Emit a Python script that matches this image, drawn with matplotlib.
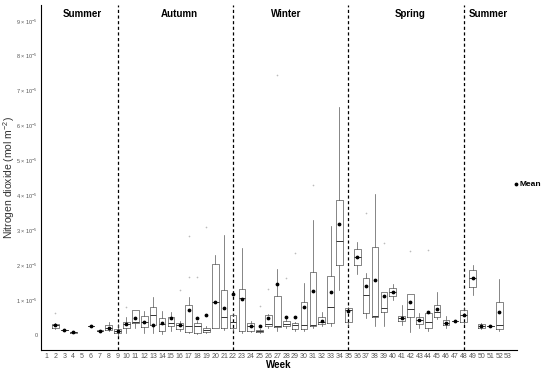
import numpy as np
import matplotlib
matplotlib.use('Agg')
import matplotlib.pyplot as plt

plt.rcParams['font.family'] = ['Liberation Sans', 'DejaVu Sans']
plt.rcParams['mathtext.fontset'] = 'custom'
plt.rcParams['mathtext.rm'] = 'Liberation Sans'

# values in units of 1e-5 mol m^-2
weeks = [2, 3, 4, 6, 7, 8, 9, 10, 11, 12, 13, 14, 15, 16, 17, 18, 19, 20, 21, 22,
         23, 24, 25, 26, 27, 28, 29, 30, 31, 32, 33, 34, 35, 36, 37, 38, 39, 40, 41,
         42, 43, 44, 45, 46, 47, 48, 49, 50, 51, 52]
whislo = [0.17, 0.12, 0.06, 0.23, 0.10, 0.10, -0.03, 0.05, 0.20, 0.05, 0.05, 0.02, 0.10, 0.12, 0.05, 0.02, 0.05, 0.19, 0.14, 0.10,
          0.05, 0.08, 0.05, 0.20, 0.10, 0.20, 0.12, 0.12, 0.20, 0.25, 0.24, 1.29, 0.25, 1.74, 0.49, 0.24, 0.24, 1.00, 0.28,
          0.07, 0.20, 0.10, 0.45, 0.20, 0.38, 0.30, 1.15, 0.17, 0.24, 0.10]
q1 = [0.20, 0.13, 0.06, 0.24, 0.11, 0.14, 0.05, 0.19, 0.34, 0.21, 0.29, 0.10, 0.24, 0.17, 0.08, 0.05, 0.08, 0.19, 0.19, 0.19,
      0.11, 0.11, 0.07, 0.24, 0.21, 0.24, 0.17, 0.17, 0.24, 0.30, 0.34, 1.99, 0.36, 1.99, 0.62, 0.50, 0.65, 1.10, 0.41,
      0.51, 0.30, 0.19, 0.50, 0.29, 0.39, 0.38, 1.38, 0.19, 0.24, 0.17]
med = [0.27, 0.14, 0.07, 0.25, 0.12, 0.20, 0.10, 0.30, 0.36, 0.37, 0.57, 0.32, 0.35, 0.29, 0.24, 0.24, 0.13, 0.93, 0.50, 0.38,
       1.05, 0.24, 0.10, 0.32, 0.24, 0.31, 0.29, 0.29, 0.27, 0.38, 0.81, 2.69, 0.70, 2.22, 1.15, 0.55, 0.76, 1.22, 0.48,
       0.74, 0.43, 0.38, 0.64, 0.35, 0.40, 0.57, 1.62, 0.26, 0.25, 0.29]
q3 = [0.31, 0.15, 0.08, 0.26, 0.13, 0.27, 0.16, 0.38, 0.72, 0.54, 0.81, 0.48, 0.51, 0.34, 0.86, 0.34, 0.19, 2.03, 1.29, 0.56,
      1.32, 0.34, 0.15, 0.57, 1.10, 0.40, 0.34, 0.95, 1.80, 0.50, 1.69, 3.87, 0.76, 2.46, 1.64, 2.51, 1.22, 1.34, 0.55,
      1.17, 0.52, 0.62, 0.86, 0.43, 0.41, 0.72, 1.86, 0.31, 0.26, 0.95]
whishi = [0.35, 0.16, 0.09, 0.27, 0.14, 0.37, 0.30, 0.52, 0.72, 0.67, 1.08, 0.67, 0.65, 0.40, 1.08, 0.40, 0.25, 2.29, 2.87, 0.60,
          2.48, 0.40, 0.18, 0.60, 1.88, 0.45, 0.38, 1.48, 3.30, 0.65, 3.13, 6.54, 0.80, 2.67, 1.76, 4.04, 1.22, 1.45, 0.86,
          1.17, 0.62, 0.62, 1.24, 0.55, 0.42, 0.80, 2.00, 0.34, 0.27, 1.60]
means = [0.27, 0.14, 0.07, 0.25, 0.12, 0.20, 0.10, 0.32, 0.48, 0.37, 0.29, 0.35, 0.47, 0.29, 0.72, 0.48, 0.57, 0.95, 0.76, 1.17,
         1.03, 0.24, 0.24, 0.48, 1.46, 0.50, 0.50, 0.79, 1.26, 0.40, 1.24, 3.18, 0.67, 2.22, 1.40, 1.58, 1.10, 1.22, 0.48,
         0.95, 0.43, 0.64, 0.74, 0.35, 0.40, 0.57, 1.62, 0.26, 0.25, 0.65]
outliers = {2: [0.63], 10: [0.81], 16: [1.29], 17: [1.67, 2.82], 18: [1.67], 19: [3.10],
            25: [0.83], 26: [1.31], 27: [7.45], 28: [1.62], 29: [2.34], 31: [4.30],
            37: [3.49], 39: [2.63], 42: [2.39], 44: [2.44]}
season_breaks = [9, 22, 35, 48]
seasons = ['Summer', 'Autumn', 'Winter', 'Spring', 'Summer']
season_x = [5, 16, 28, 42, 50.8]

scale = 1e-5
stats = []
for i, w in enumerate(weeks):
    stats.append({'whislo': whislo[i] * scale, 'q1': q1[i] * scale, 'med': med[i] * scale,
                  'q3': q3[i] * scale, 'whishi': whishi[i] * scale,
                  'fliers': np.array(outliers.get(w, [])) * scale})

fig = plt.figure(figsize=(5.5, 3.69), dpi=100)
ax = fig.add_axes([0.075, 0.052, 0.865, 0.935])

grey = '#555555'
ax.bxp(stats, positions=weeks, widths=0.75, showfliers=True, patch_artist=False,
       boxprops=dict(color=grey, linewidth=0.5),
       whiskerprops=dict(color=grey, linewidth=0.5),
       capprops=dict(linewidth=0),
       medianprops=dict(color='#333333', linewidth=0.7),
       flierprops=dict(marker='o', markersize=1.2, markerfacecolor='#bbbbbb',
                       markeredgecolor='none'))
ax.scatter(weeks, np.array(means) * scale, s=3, color='black', zorder=5, label='Mean')

for b in season_breaks:
    ax.axvline(b, color='black', linestyle=(0, (2.5, 2)), linewidth=0.9, zorder=1)
for name, sx in zip(seasons, season_x):
    ax.text(sx, 9.2e-5, name, ha='center', va='center', fontsize=7, fontweight='bold')

ax.set_xlim(0.4, 54.0)
ax.set_ylim(-0.43e-5, 9.46e-5)
ax.set_xticks(range(1, 54))
ax.set_xticklabels([str(i) for i in range(1, 54)])
yt = list(range(0, 10))
ax.set_yticks([v * scale for v in yt])
ax.set_yticklabels(['0'] + [f'{v} × 10$^{{-5}}$' for v in yt[1:]])
ax.tick_params(axis='both', length=0, labelsize=4, colors='#555555', pad=2.5)
ax.tick_params(axis='x', labelsize=5)

for s in ['top', 'right']:
    ax.spines[s].set_visible(False)
ax.spines['left'].set_linewidth(0.8)
ax.spines['bottom'].set_linewidth(0.8)

ax.set_xlabel('Week', fontsize=7, fontweight='bold', labelpad=0)
ax.set_ylabel('Nitrogen dioxide (mol m$^{-2}$)', fontsize=7.5, color='#333333')
ax.yaxis.set_label_coords(-0.052, 0.5)

ax.legend(loc='center left', bbox_to_anchor=(0.99, 0.48), frameon=False,
          handletextpad=0.1, handlelength=0.8, borderpad=0, borderaxespad=0,
          prop={'weight': 'bold', 'size': 6})

plt.savefig('out.png', dpi=100)
